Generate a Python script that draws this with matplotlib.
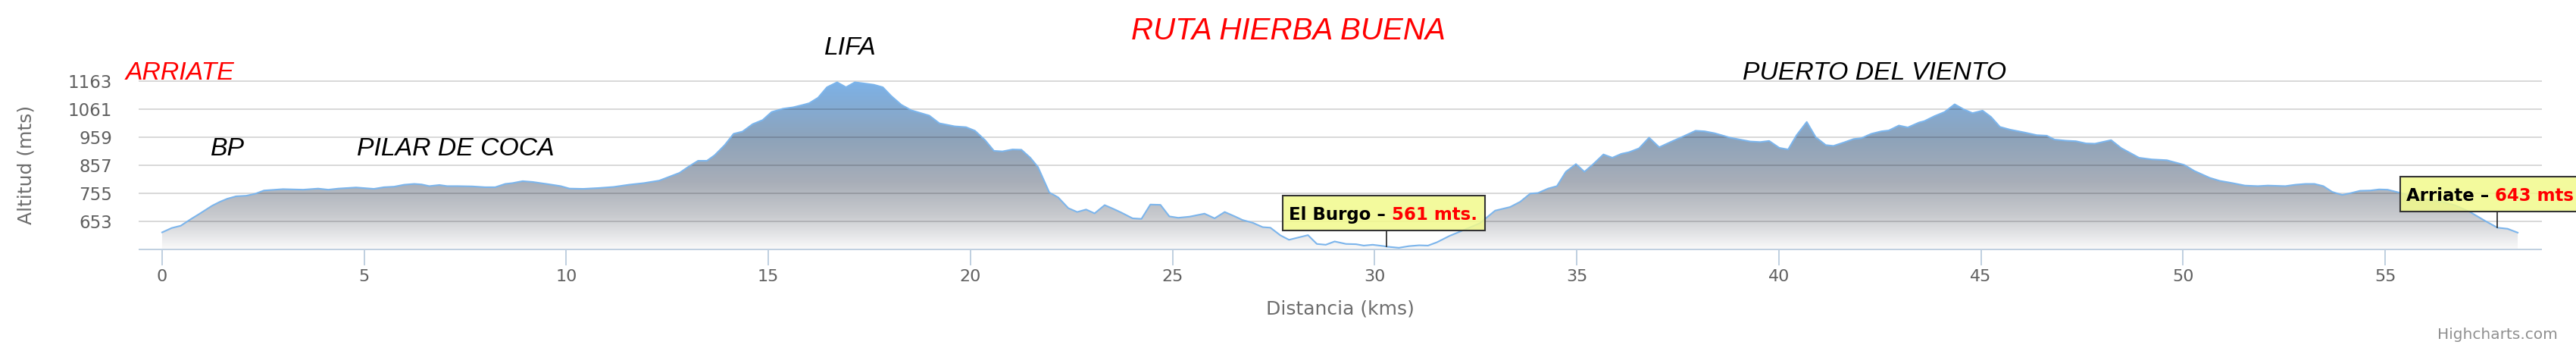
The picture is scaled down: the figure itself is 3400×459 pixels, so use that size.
import numpy as np
import matplotlib
matplotlib.use("Agg")
import matplotlib.pyplot as plt
from matplotlib.colors import LinearSegmentedColormap
from matplotlib.patches import Rectangle
from matplotlib.text import Annotation
from matplotlib.transforms import IdentityTransform

# perfil de la ruta: distancia (km) y altitud (m)
km = [0.00, 0.24, 0.46, 0.71, 0.92, 1.24, 1.43, 1.61, 1.83, 2.08, 2.30, 2.52, 2.99, 3.49, 3.86,
      4.11, 4.36, 4.80, 5.24, 5.49, 5.74, 5.99, 6.24, 6.42, 6.61, 6.86, 7.05, 7.30, 7.67, 7.99,
      8.24, 8.49, 8.67, 8.92, 9.17, 9.55, 9.86, 10.08, 10.42, 10.80, 11.17, 11.55, 11.92, 12.30,
      12.48, 12.80, 13.05, 13.26, 13.48, 13.67, 13.92, 14.14, 14.36, 14.61, 14.86, 15.08, 15.36,
      15.61, 15.86, 16.01, 16.23, 16.45, 16.70, 16.92, 17.14, 17.36, 17.61, 17.83, 18.04, 18.29,
      18.54, 18.98, 19.23, 19.61, 19.89, 20.11, 20.36, 20.58, 20.79, 21.04, 21.26, 21.48, 21.67,
      21.95, 22.17, 22.42, 22.64, 22.86, 23.07, 23.32, 23.54, 23.73, 24.01, 24.23, 24.45, 24.70,
      24.92, 25.14, 25.42, 25.79, 26.04, 26.29, 26.54, 26.73, 26.98, 27.23, 27.42, 27.67, 27.88,
      28.13, 28.35, 28.57, 28.79, 29.01, 29.29, 29.54, 29.73, 29.95, 30.23, 30.30, 30.60, 30.85,
      31.10, 31.32, 31.54, 31.85, 32.23, 32.60, 32.98, 33.35, 33.60, 33.85, 34.04, 34.29, 34.51,
      34.73, 34.98, 35.19, 35.41, 35.66, 35.88, 36.10, 36.29, 36.54, 36.79, 37.04, 37.35, 37.66,
      37.94, 38.16, 38.41, 38.79, 39.04, 39.29, 39.54, 39.76, 40.01, 40.23, 40.44, 40.69, 40.91,
      41.16, 41.35, 41.60, 41.85, 42.04, 42.29, 42.54, 42.72, 42.97, 43.19, 43.47, 43.60, 43.85,
      44.10, 44.35, 44.57, 44.79, 45.04, 45.25, 45.47, 45.72, 46.10, 46.38, 46.63, 46.82, 47.10,
      47.35, 47.60, 47.82, 48.22, 48.47, 48.91, 49.22, 49.60, 50.03, 50.28, 50.66, 50.91, 51.22,
      51.53, 51.85, 52.10, 52.53, 52.78, 53.03, 53.25, 53.47, 53.69, 53.94, 54.16, 54.38, 54.63,
      54.85, 55.06, 55.28, 55.66, 56.03, 56.41, 56.72, 57.10, 57.47, 57.78, 58.03, 58.28]
alt = [613, 629, 637, 661, 680, 710, 724, 735, 744, 746, 753, 765, 770, 768, 772,
       768, 772, 776, 771, 777, 779, 786, 789, 787, 781, 785, 781, 781, 780, 777,
       777, 789, 792, 799, 796, 788, 781, 772, 771, 774, 778, 786, 792, 801,
       811, 829, 854, 873, 873, 893, 930, 971, 979, 1006, 1021, 1050, 1062,
       1067, 1076, 1082, 1102, 1140, 1158, 1140, 1158, 1154, 1149, 1140, 1108, 1076,
       1056, 1037, 1009, 998, 995, 982, 948, 909, 907, 914, 913, 884, 850,
       758, 740, 701, 687, 696, 682, 712, 698, 685, 664, 662, 714, 713,
       671, 666, 670, 681, 664, 687, 671, 658, 648, 632, 630, 602, 586,
       595, 603, 571, 568, 580, 571, 570, 565, 568, 563, 561, 557, 563,
       566, 565, 577, 600, 623, 646, 692, 705, 724, 754, 756, 772, 781,
       833, 861, 833, 861, 896, 884, 898, 904, 918, 957, 922, 943, 963,
       982, 980, 973, 957, 950, 943, 941, 945, 920, 914, 966, 1014, 959,
       930, 927, 939, 952, 955, 971, 980, 983, 1001, 994, 1012, 1017, 1035,
       1050, 1078, 1060, 1046, 1055, 1032, 996, 986, 975, 966, 964, 950, 946,
       944, 936, 935, 948, 919, 884, 878, 875, 858, 836, 811, 800, 792,
       783, 781, 783, 781, 786, 789, 789, 781, 760, 749, 756, 764, 765,
       769, 768, 760, 745, 733, 724, 712, 687, 655, 630, 626, 612]

y_ticks = [653, 755, 857, 959, 1061, 1163]
x_ticks = [0, 5, 10, 15, 20, 25, 30, 35, 40, 45, 50, 55]

# puntos con tooltip: (km, altitud, nombre, texto altitud)
tip_burgo = (30.30, 561, "El Burgo", "561 mts.")
tip_arriate = (57.78, 630, "Arriate", "643 mts")

# etiquetas de lugares (km, altitud base del texto, texto, color)
lugares = [(-0.90, 1167.7, "ARRIATE", "red"),
           (1.20, 893, "BP", "black"),
           (4.82, 893, "PILAR DE COCA", "black"),
           (16.38, 1258, "LIFA", "black"),
           (39.10, 1167.7, "PUERTO DEL VIENTO", "black")]

fig = plt.figure(figsize=(34, 4.59), dpi=100)
ax = fig.add_axes([184/3400, 130/459, 3170/3400, 222.3/459])

x0, x1, y0, y1 = -0.562, 58.86, 551, 1163

# degradado del area
cmap = LinearSegmentedColormap.from_list("perfil", [
    (0.0, (124/255, 178/255, 232/255)),
    (0.35, (142/255, 163/255, 186/255)),
    (0.6, (168/255, 174/255, 184/255)),
    (0.8, (200/255, 202/255, 206/255)),
    (1.0, (250/255, 250/255, 250/255))])
grad = np.linspace(0, 1, 256)[:, None]
poly = ax.fill_between(km, alt, y0, facecolor="none", edgecolor="none")
img = ax.imshow(grad, cmap=cmap, extent=[x0, x1, y0, y1], aspect="auto", zorder=1)
img.set_clip_path(poly.get_paths()[0], ax.transData)

for v in y_ticks:
    ax.axhline(v, color=(0, 0, 0, 0.15), lw=1.44, zorder=3, clip_on=False)

ax.plot(km, alt, color="#7cb5ec", lw=1.5, zorder=4)

ax.set_xlim(x0, x1)
ax.set_ylim(y0, y1)
ax.set_xticks(x_ticks)
ax.set_yticks(y_ticks)
for s in ["top", "right", "left"]:
    ax.spines[s].set_visible(False)
ax.spines["bottom"].set_color("#C0D0E0")
ax.spines["bottom"].set_linewidth(1.44)
ax.tick_params(axis="x", length=15, width=1.44, color="#C0D0E0", pad=3.5,
               labelsize=16, labelcolor="#606060")
ax.tick_params(axis="y", length=0, pad=26, labelsize=16.5, labelcolor="#606060")

ax.set_ylabel("Altitud (mts)", fontsize=18, color="#6d6d6d")
ax.yaxis.set_label_coords(-0.0435, 0.5)
ax.set_xlabel("Distancia (kms)", fontsize=18, color="#6d6d6d")
ax.xaxis.set_label_coords(0.5, -0.355)
ax.xaxis.label.set_va("center")

for lx, ly, txt, col in lugares:
    ax.text(lx, ly, txt, color=col, fontsize=24.3, style="italic",
            family="Liberation Sans", ha="left", va="baseline", clip_on=False)

fig.text(0.5, (459 - 51.7) / 459, "RUTA HIERBA BUENA", color="red", fontsize=29,
         style="italic", family="Liberation Sans", ha="center", va="baseline")
fig.text(3376/3400, (459 - 446.7) / 459, "Highcharts.com", color="#909090",
         fontsize=14.5, ha="right", va="baseline")


def tooltip(tip, dx):
    px, py = ax.transData.transform((tip[0], tip[1]))
    left = px + dx
    bottom = py + 21
    fig.add_artist(plt.Line2D([px, px], [py, bottom], color="#222222", lw=1.2,
                              transform=IdentityTransform(), zorder=9))
    rect = Rectangle((left, bottom), 260, 46, transform=IdentityTransform(),
                     facecolor=(0.95, 0.98, 0.55, 0.85), edgecolor="#333333",
                     lw=1.5, zorder=10)
    fig.add_artist(rect)
    t1 = fig.text(left + 8, bottom + 14.7, tip[2] + " \u2013 ", transform=IdentityTransform(),
                  fontsize=16.5, weight="bold", color="black", va="baseline", zorder=11)
    t2 = Annotation(tip[3], xy=(1, 0), xycoords=t1, ha="left", va="bottom",
                    fontsize=16.5, weight="bold", color="red", zorder=11,
                    annotation_clip=False)
    fig.add_artist(t2)
    return rect, t2, left


tips = [tooltip(tip_burgo, -137.3), tooltip(tip_arriate, -128.7)]
fig.canvas.draw()
for rect, t2, left in tips:
    bb = t2.get_window_extent()
    rect.set_width(bb.x1 - left + 10)

fig.savefig("out.png", dpi=100)
